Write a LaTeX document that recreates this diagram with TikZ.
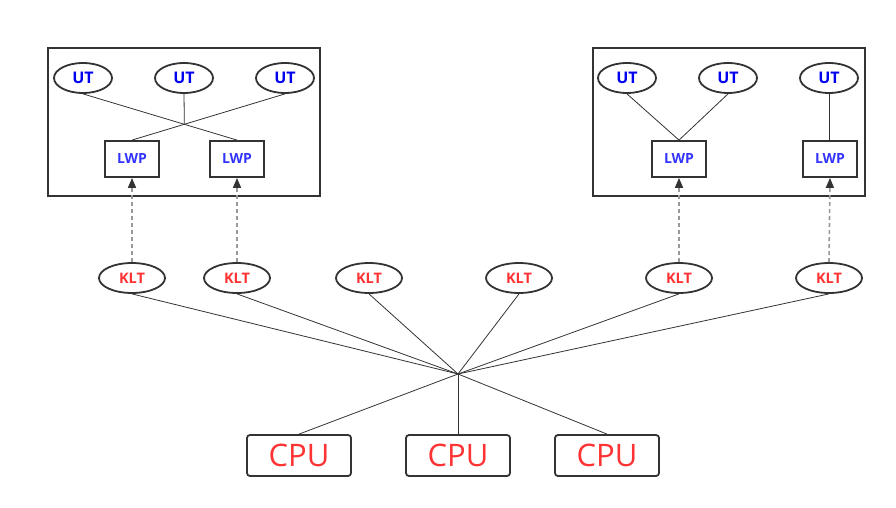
\documentclass[tikz,border=0pt]{standalone}
\usepackage{fontspec}
\newfontfamily\diagfont{Open Sans}
\usetikzlibrary{positioning,shapes.geometric,arrows.meta}

\definecolor{linegray}{HTML}{333333}
\definecolor{dashgray}{HTML}{999999}
\definecolor{utblue}{HTML}{0000EE}
\definecolor{lwpblue}{HTML}{3333FF}
\definecolor{kltred}{HTML}{FF3333}

\begin{document}
\begin{tikzpicture}[
    x=1pt, y=-1pt,
 procbox/.style = {
        draw=linegray, line width=2pt},
  utnode/.style = {
        draw=linegray, ellipse, line width=1.8pt, inner sep=0pt,
        minimum width=58pt, minimum height=30pt,
        font=\diagfont\bfseries\fontsize{16}{19}\selectfont, text=utblue},
 lwpnode/.style = {
        draw=linegray, rectangle, line width=1.8pt, inner sep=0pt,
        minimum width=54pt, minimum height=36pt,
        font=\diagfont\bfseries\fontsize{14}{17}\selectfont, text=lwpblue},
 kltnode/.style = {
        draw=linegray, ellipse, line width=1.8pt, inner sep=0pt,
        minimum width=66pt, minimum height=30pt,
        font=\diagfont\bfseries\fontsize{14.5}{17}\selectfont, text=kltred},
 cpunode/.style = {
        draw=linegray, rectangle, rounded corners=3pt, line width=1.8pt,
        inner sep=0pt, minimum width=104pt, minimum height=41pt,
        font=\diagfont\fontsize{31}{36}\selectfont, text=kltred},
    link/.style = {draw=linegray, line width=0.8pt},
   klink/.style = {draw=dashgray, line width=1.6pt, dash pattern=on 4pt off 3pt,
        -{Triangle[length=10pt,width=8pt,color=linegray]}}
                    ]
\useasboundingbox (0,0) rectangle (896,508);
% the two process boxes
\draw[procbox] (48,48) rectangle (320,196);
\draw[procbox] (593,48) rectangle (865,196);
% user threads
\node (ut1) [utnode] at (83,78)  {UT};
\node (ut2) [utnode] at (184,78) {UT};
\node (ut3) [utnode] at (285,78) {UT};
\node (ut4) [utnode] at (627,78) {UT};
\node (ut5) [utnode] at (728,78) {UT};
\node (ut6) [utnode] at (829,78) {UT};
% light weight processes
\node (lwp1) [lwpnode] at (132,159) {LWP};
\node (lwp2) [lwpnode] at (237,159) {LWP};
\node (lwp3) [lwpnode] at (679,159) {LWP};
\node (lwp4) [lwpnode] at (830,159) {LWP};
% kernel threads
\node (klt1) [kltnode] at (132,278) {KLT};
\node (klt2) [kltnode] at (237,278) {KLT};
\node (klt3) [kltnode] at (369,278) {KLT};
\node (klt4) [kltnode] at (519,278) {KLT};
\node (klt5) [kltnode] at (679,278) {KLT};
\node (klt6) [kltnode] at (829,278) {KLT};
% the processors
\node (cpu1) [cpunode] at (299,455.5) {CPU};
\node (cpu2) [cpunode] at (458,455.5) {CPU};
\node (cpu3) [cpunode] at (607,455.5) {CPU};
\coordinate (hub) at (458,374);

% UT to LWP
\draw[link] (ut1.south) -- (lwp2.north);
\draw[link] (ut3.south) -- (lwp1.north);
\coordinate (cross) at (intersection of ut1.south--lwp2.north and ut3.south--lwp1.north);
\draw[link] (ut2.south) -- (cross);
\draw[link] (ut4.south) -- (lwp3.north);
\draw[link] (ut5.south) -- (lwp3.north);
\draw[link] (ut6.south) -- (ut6.south |- lwp4.north);
% KLT to LWP
\draw[klink] (klt1.north) -- (lwp1.south);
\draw[klink] (klt2.north) -- (lwp2.south);
\draw[klink] (klt5.north) -- (lwp3.south);
\draw[klink] (klt6.north) -- (lwp4.south);
% KLT to CPU
\foreach \k in {1,...,6}
    \draw[link] (klt\k.south) -- (hub);
\foreach \c in {1,2,3}
    \draw[link] (hub) -- (cpu\c.north);
\end{tikzpicture}
\end{document}
